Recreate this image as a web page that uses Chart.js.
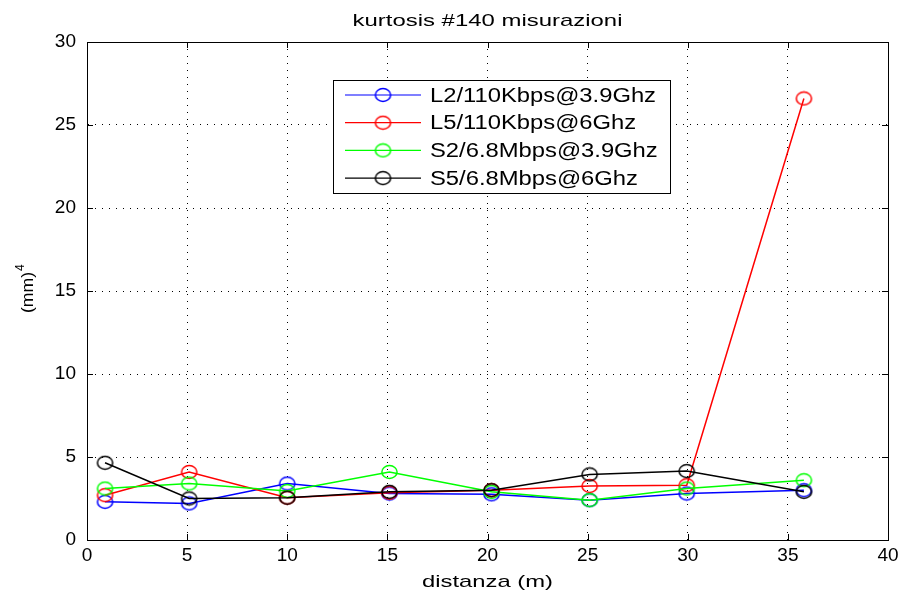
<!DOCTYPE html>
<html>
<head>
<meta charset="utf-8">
<script src="https://cdn.jsdelivr.net/npm/chart.js@4"></script>
<style>
  html, body { margin: 0; background: #fff; }
</style>
</head>
<body>
<canvas id="chart" width="909" height="596"></canvas>
<script>
// distance of each measurement (m)
const distances = [0.9, 5.1, 10, 15.1, 20.2, 25.1, 29.95, 35.8];

// kurtosis values (mm)^4
const l2_39 = [2.3, 2.2, 3.4, 2.8, 2.75, 2.4, 2.8, 3.0];
const l5_6 = [2.7, 4.1, 2.55, 2.85, 3.0, 3.25, 3.3, 26.6];
const s2_39 = [3.1, 3.4, 2.95, 4.1, 2.9, 2.4, 3.1, 3.6];
const s5_6 = [4.65, 2.5, 2.55, 2.9, 3.0, 3.95, 4.15, 2.9];

const seriesLabels = ["L2/110Kbps@3.9Ghz", "L5/110Kbps@6Ghz", "S2/6.8Mbps@3.9Ghz", "S5/6.8Mbps@6Ghz"];
const seriesColors = ["#0000ff", "#ff0000", "#00ff00", "#000000"];
const xTicks = [0, 5, 10, 15, 20, 25, 30, 35, 40];
const yTicks = [0, 5, 10, 15, 20, 25, 30];

const FONT = "'Liberation Sans', Arial, sans-serif";

// slightly wide open-circle marker, like the matlab export
function marker(color) {
  const c = document.createElement("canvas");
  c.width = 19;
  c.height = 16;
  const g = c.getContext("2d");
  g.strokeStyle = color;
  g.lineWidth = 1.5;
  g.beginPath();
  g.ellipse(9.5, 8, 7.6, 6.4, 0, 0, Math.PI * 2);
  g.stroke();
  return c;
}
const markers = seriesColors.map(marker);

function toPoints(ys) {
  return ys.map((y, i) => ({ x: distances[i], y: y }));
}

const allSeries = [l2_39, l5_6, s2_39, s5_6];

const datasets = allSeries.map((ys, i) => ({
  label: seriesLabels[i],
  data: toPoints(ys),
  showLine: true,
  borderColor: seriesColors[i],
  backgroundColor: "transparent",
  borderWidth: 1.5,
  pointStyle: markers[i],
  pointRadius: 8,
  pointHoverRadius: 8,
  order: 4 - i
}));

// stretched text helper (the original text is rendered wide)
function wideText(g, text, x, y, size, width, align) {
  g.save();
  g.font = size + "px " + FONT;
  const w = g.measureText(text).width;
  const sx = width / w;
  g.translate(x, y);
  g.scale(sx, 1);
  g.textAlign = align || "center";
  g.fillText(text, 0, 0);
  g.restore();
}

const decorations = {
  id: "decorations",
  afterDraw(chart) {
    const g = chart.ctx;
    const a = chart.chartArea;
    const xs = chart.scales.x;
    const ys = chart.scales.y;
    g.save();
    g.strokeStyle = "#000";
    g.lineWidth = 1;
    g.strokeRect(Math.round(a.left) + 0.5, Math.round(a.top) + 0.5,
      Math.round(a.right - a.left), Math.round(a.bottom - a.top));

    // inward ticks
    g.beginPath();
    xTicks.forEach((v) => {
      const px = Math.round(xs.getPixelForValue(v)) + 0.5;
      g.moveTo(px, a.bottom); g.lineTo(px, a.bottom - 6);
      g.moveTo(px, a.top); g.lineTo(px, a.top + 6);
    });
    yTicks.forEach((v) => {
      const py = Math.round(ys.getPixelForValue(v)) + 0.5;
      g.moveTo(a.left, py); g.lineTo(a.left + 6, py);
      g.moveTo(a.right, py); g.lineTo(a.right - 6, py);
    });
    g.stroke();

    // title and axis labels
    g.fillStyle = "#000";
    g.textBaseline = "alphabetic";
    const cx = (a.left + a.right) / 2;
    wideText(g, "kurtosis #140 misurazioni", cx, 26, 17, 270);
    wideText(g, "distanza (m)", cx, 587, 17, 131);

    g.save();
    g.translate(33, 313);
    g.rotate(-Math.PI / 2);
    g.textBaseline = "alphabetic";
    wideText(g, "(mm)", 0, 0, 17, 41, "left");
    g.font = "12px " + FONT;
    g.textAlign = "left";
    g.fillText("4", 42, -9);
    g.restore();

    // legend box
    const bx = 333, by = 80, bw = 337, bh = 113;
    g.fillStyle = "#fff";
    g.fillRect(bx, by, bw, bh);
    g.strokeRect(bx + 0.5, by + 0.5, bw, bh);
    g.font = "20px " + FONT;
    const sx = 226 / g.measureText(seriesLabels[0]).width;
    chart.data.datasets.forEach((ds, i) => {
      const ry = 95 + i * 27.7;
      g.strokeStyle = seriesColors[i];
      g.lineWidth = 1.2;
      g.beginPath();
      g.moveTo(345, ry); g.lineTo(421, ry);
      g.stroke();
      g.drawImage(markers[i], 383 - 9.5, ry - 8);
      g.save();
      g.fillStyle = "#000";
      g.textBaseline = "middle";
      g.textAlign = "left";
      g.translate(430, ry + 1);
      g.scale(sx, 1);
      g.fillText(ds.label, 0, 0);
      g.restore();
    });
    g.restore();
  }
};

const ctx = document.getElementById("chart");

new Chart(ctx, {
  type: "scatter",
  data: { datasets: datasets },
  options: {
    responsive: false,
    animation: false,
    events: [],
    layout: { padding: { left: 0, right: 21, top: 42, bottom: 0 } },
    plugins: {
      legend: { display: false },
      title: { display: false },
      tooltip: { enabled: false }
    },
    scales: {
      x: {
        type: "linear",
        min: 0,
        max: 40,
        afterFit: (s) => { s.height = 56; },
        afterBuildTicks: (s) => { s.ticks = xTicks.map((v) => ({ value: v })); },
        ticks: { color: "#000", font: { family: FONT, size: 19 }, padding: 4 },
        grid: { color: "#000", lineWidth: 1, drawTicks: false },
        border: { display: true, color: "#000", width: 1, dash: [1, 6] }
      },
      y: {
        type: "linear",
        min: 0,
        max: 30,
        afterFit: (s) => { s.width = 87; },
        afterBuildTicks: (s) => { s.ticks = yTicks.map((v) => ({ value: v })); },
        ticks: { color: "#000", font: { family: FONT, size: 19 }, padding: 11 },
        grid: { color: "#000", lineWidth: 1, drawTicks: false },
        border: { display: true, color: "#000", width: 1, dash: [1, 6] }
      }
    }
  },
  plugins: [decorations]
});
</script>
</body>
</html>
